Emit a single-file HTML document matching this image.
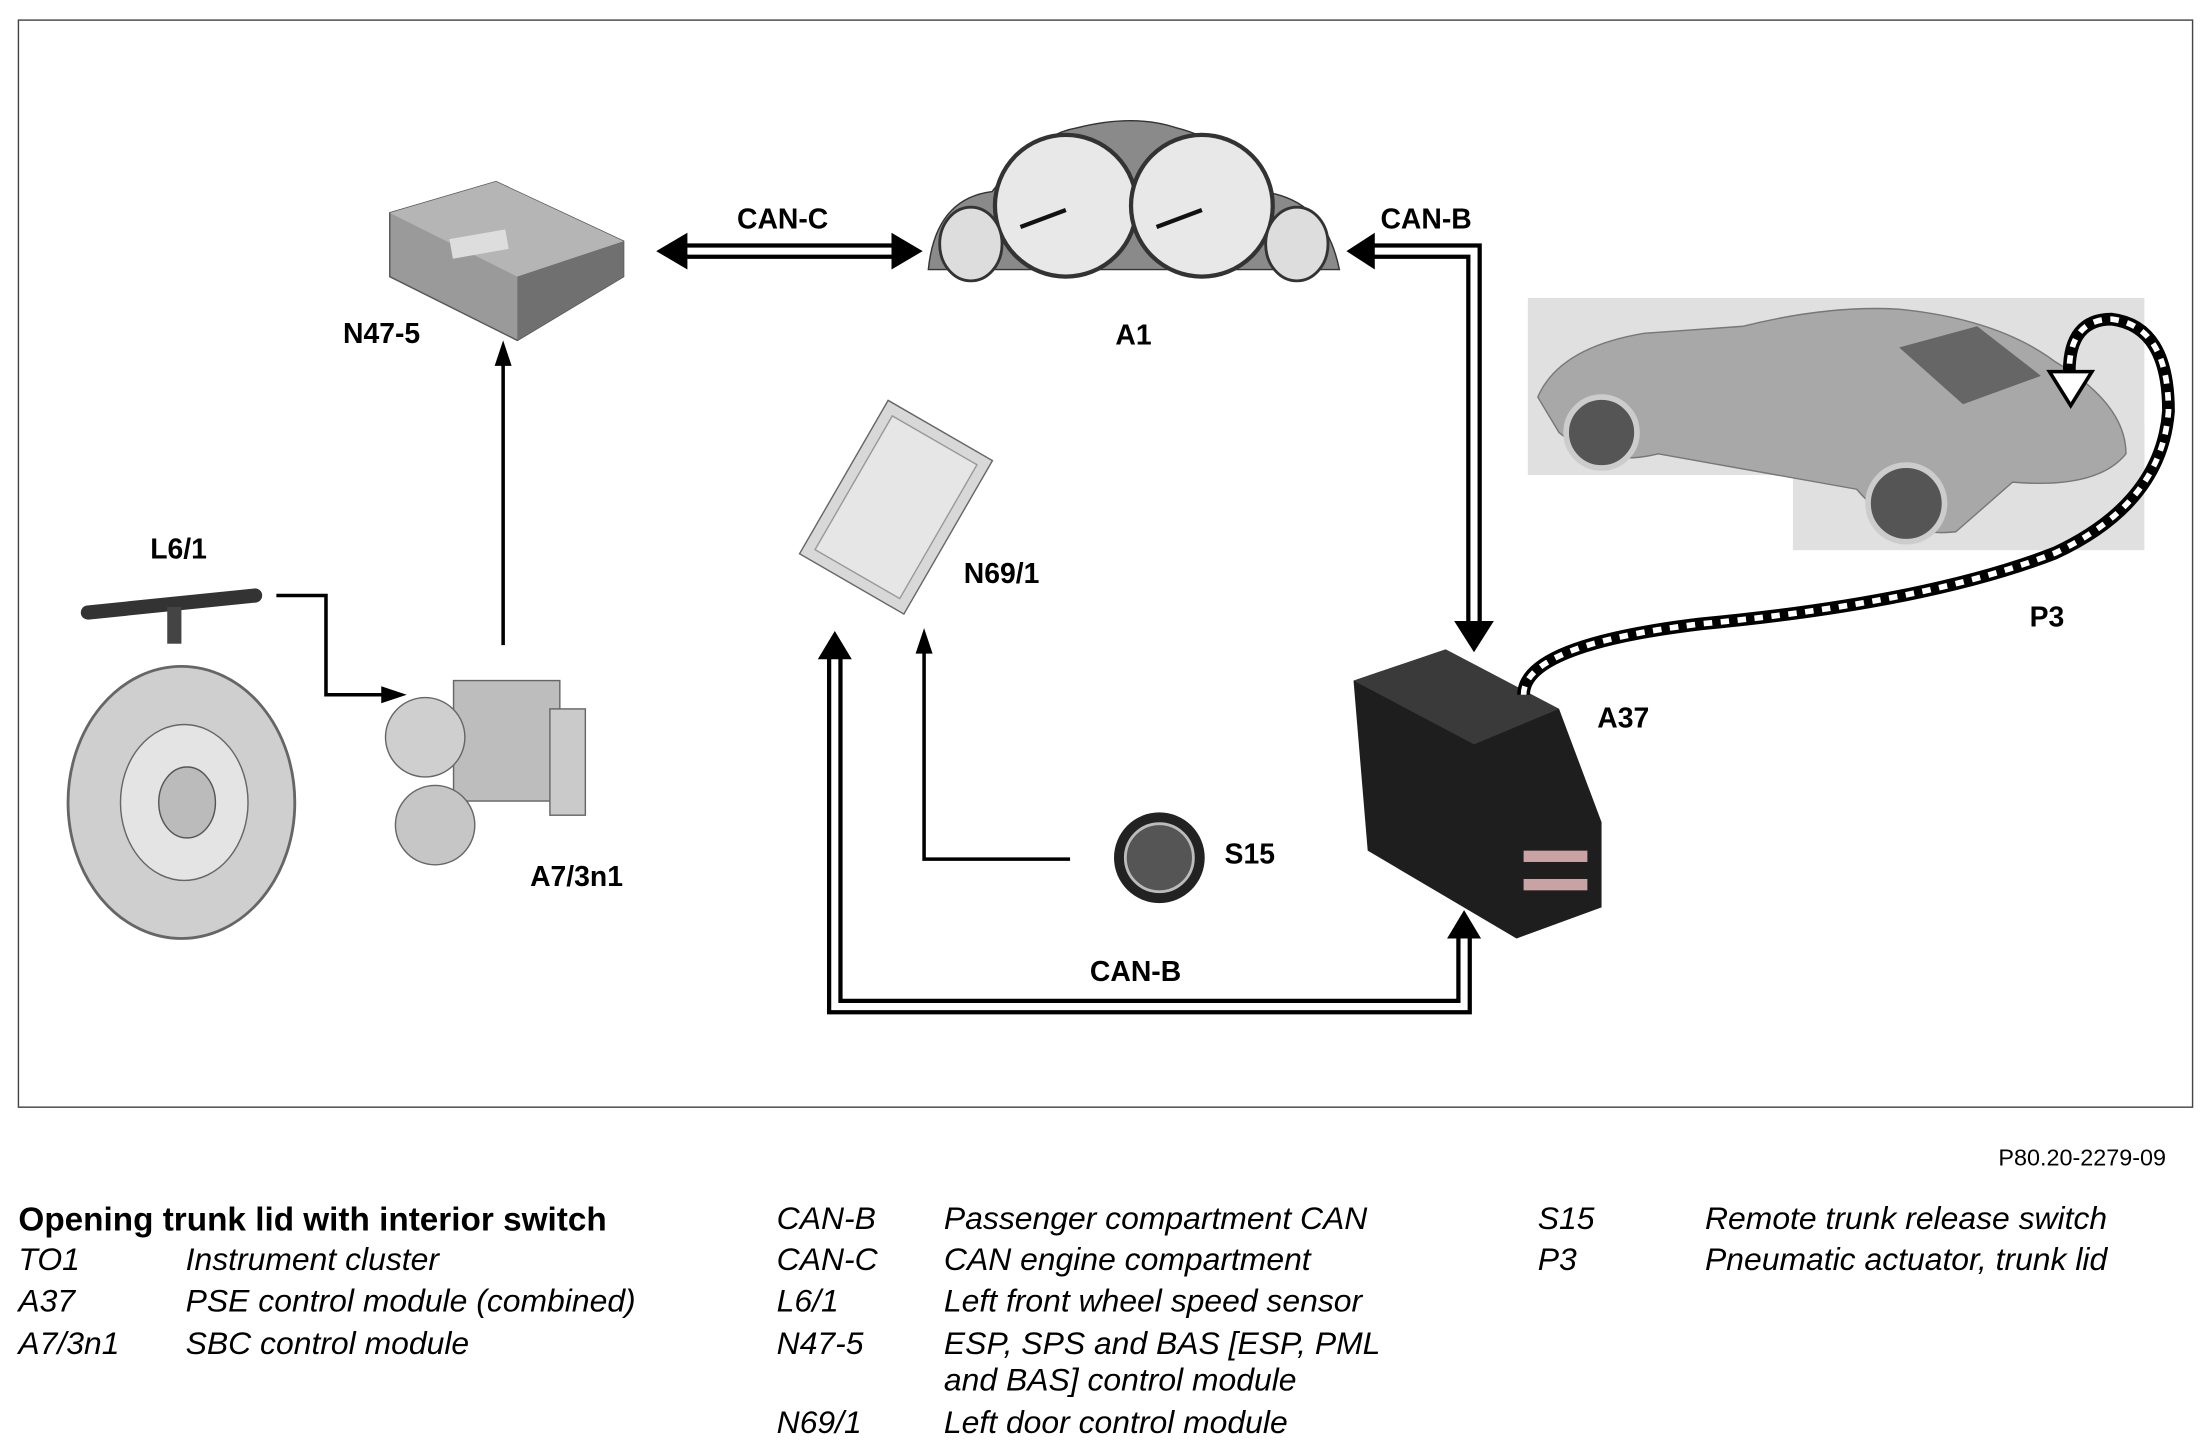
<!DOCTYPE html>
<html><head><meta charset="utf-8"><style>
html,body{margin:0;padding:0;background:#fff}
svg{display:block}
text{font-family:"Liberation Sans",Arial,sans-serif}
.lbl{font-weight:bold;font-size:20px}
.it{font-style:italic;font-size:22.5px}
</style></head><body>
<svg width="2211" height="1449" viewBox="0 0 1560 1022" xmlns="http://www.w3.org/2000/svg">
<rect x="13" y="14" width="1534" height="767" fill="#fff" stroke="#444" stroke-width="1"/>

<!-- N47-5 -->
<g>
<polygon points="275,150 350,128 440,170 440,195 365,240 275,195" fill="#9a9a9a" stroke="#555"/>
<polygon points="275,150 350,128 440,170 365,195" fill="#b5b5b5"/>
<polygon points="365,195 440,170 440,195 365,240" fill="#707070"/>
<rect x="318" y="165" width="40" height="14" fill="#ddd" transform="rotate(-10 338 172)"/>
</g>
<text class="lbl" x="242" y="242">N47-5</text>

<!-- A1 cluster -->
<g>
<path d="M655,190 Q660,140 700,135 Q730,95 760,90 Q800,80 830,90 Q870,100 890,135 Q935,140 945,190 Z" fill="#8a8a8a" stroke="#333"/>
<circle cx="752" cy="145" r="50" fill="#e8e8e8" stroke="#333" stroke-width="3"/>
<circle cx="848" cy="145" r="50" fill="#e8e8e8" stroke="#333" stroke-width="3"/>
<ellipse cx="685" cy="172" rx="22" ry="26" fill="#ddd" stroke="#333" stroke-width="2"/>
<ellipse cx="915" cy="172" rx="22" ry="26" fill="#ddd" stroke="#333" stroke-width="2"/>
<line x1="752" y1="148" x2="720" y2="160" stroke="#111" stroke-width="3"/>
<line x1="848" y1="148" x2="816" y2="160" stroke="#111" stroke-width="3"/>
</g>
<text class="lbl" x="787" y="243">A1</text>

<!-- double-line connectors -->
<g fill="none" stroke-linejoin="miter">
<path d="M480,177 L635,177" stroke="#000" stroke-width="11"/>
<path d="M480,177 L635,177" stroke="#fff" stroke-width="5"/>
<path d="M965,177 L1040,177 L1040,440" stroke="#000" stroke-width="11"/>
<path d="M965,177 L1040,177 L1040,440" stroke="#fff" stroke-width="5"/>
<path d="M589,462 L589,710 L1033,710 L1033,660" stroke="#000" stroke-width="11"/>
<path d="M589,462 L589,710 L1033,710 L1033,660" stroke="#fff" stroke-width="5"/>
</g>
<polygon points="463,177 485,164 485,190" fill="#000"/>
<polygon points="651,177 629,164 629,190" fill="#000"/>
<polygon points="950,177 970,164 970,190" fill="#000"/>
<polygon points="1040,460 1026,438 1054,438" fill="#000"/>
<polygon points="589,445 577,465 601,465" fill="#000"/>
<polygon points="1033,642 1021,662 1045,662" fill="#000"/>
<text class="lbl" x="520" y="161">CAN-C</text>
<text class="lbl" x="974" y="161">CAN-B</text>
<text class="lbl" x="769" y="692">CAN-B</text>

<!-- single arrows -->
<path d="M355,455 L355,255" stroke="#000" stroke-width="2.5" fill="none"/>
<polygon points="355,240 349,258 361,258" fill="#000"/>
<path d="M195,420 L230,420 L230,490 L272,490" stroke="#000" stroke-width="2.5" fill="none"/>
<polygon points="287,490 269,484 269,496" fill="#000"/>
<path d="M755,606 L652,606 L652,458" stroke="#000" stroke-width="2.5" fill="none"/>
<polygon points="652,443 646,461 658,461" fill="#000"/>

<!-- N69/1 -->
<g transform="rotate(30 632 357)">
<rect x="590" y="295" width="85" height="125" fill="#d8d8d8" stroke="#666"/>
<rect x="598" y="303" width="69" height="109" fill="#e6e6e6" stroke="#999"/>
</g>
<text class="lbl" x="680" y="411">N69/1</text>

<!-- L6/1 + disc -->
<path d="M62,432 L180,420" stroke="#333" stroke-width="10" stroke-linecap="round"/>
<rect x="118" y="428" width="10" height="26" fill="#444"/>
<text class="lbl" x="106" y="394">L6/1</text>
<ellipse cx="128" cy="566" rx="80" ry="96" fill="#cfcfcf" stroke="#666" stroke-width="2"/>
<ellipse cx="130" cy="566" rx="45" ry="55" fill="#e4e4e4" stroke="#666"/>
<ellipse cx="132" cy="566" rx="20" ry="25" fill="#bbb" stroke="#555"/>

<!-- A7/3n1 -->
<g>
<rect x="320" y="480" width="75" height="85" fill="#bdbdbd" stroke="#666"/>
<rect x="388" y="500" width="25" height="75" fill="#cacaca" stroke="#666"/>
<ellipse cx="300" cy="520" rx="28" ry="28" fill="#cfcfcf" stroke="#666"/>
<circle cx="307" cy="582" r="28" fill="#c6c6c6" stroke="#666"/>
</g>
<text class="lbl" x="374" y="625">A7/3n1</text>

<!-- S15 -->
<circle cx="818" cy="605" r="32" fill="#222"/>
<circle cx="818" cy="605" r="24" fill="#555" stroke="#bbb" stroke-width="2"/>
<text class="lbl" x="864" y="609">S15</text>

<!-- A37 -->
<g>
<polygon points="955,480 1020,458 1100,500 1130,580 1130,640 1070,662 965,600" fill="#1e1e1e"/>
<polygon points="955,480 1020,458 1100,500 1040,525" fill="#3a3a3a"/>
<rect x="1075" y="600" width="45" height="8" fill="#c9a3a3"/>
<rect x="1075" y="620" width="45" height="8" fill="#c9a3a3"/>
</g>
<text class="lbl" x="1127" y="513">A37</text>

<!-- car -->
<rect x="1078" y="210" width="435" height="125" fill="#e0e0e0"/>
<rect x="1265" y="300" width="248" height="88" fill="#e0e0e0"/>
<path d="M1085,280 Q1100,245 1160,235 L1230,230 Q1290,215 1340,218 Q1410,225 1450,255 Q1500,285 1500,320 Q1480,345 1420,340 L1380,375 Q1340,380 1310,345 L1170,320 Q1130,330 1100,305 Z" fill="#a8a8a8" stroke="#777"/>
<polygon points="1340,245 1395,230 1440,265 1385,285" fill="#666"/>
<circle cx="1130" cy="305" r="25" fill="#555" stroke="#ccc" stroke-width="4"/>
<circle cx="1345" cy="355" r="27" fill="#555" stroke="#ccc" stroke-width="4"/>

<!-- P3 -->
<path d="M1075,490 Q1075,455 1200,440 Q1360,425 1450,390 Q1525,355 1530,290 Q1530,230 1490,225 Q1460,225 1460,262" fill="none" stroke="#000" stroke-width="9"/>
<path d="M1075,490 Q1075,455 1200,440 Q1360,425 1450,390 Q1525,355 1530,290 Q1530,230 1490,225 Q1460,225 1460,262" fill="none" stroke="#fff" stroke-width="4" stroke-dasharray="6 6"/>
<polygon points="1446,262 1476,262 1461,286" fill="#fff" stroke="#000" stroke-width="2.5"/>
<text class="lbl" x="1432" y="442">P3</text>

<!-- legend -->
<text x="1410" y="822" font-size="16.5">P80.20-2279-09</text>
<text x="13" y="868" font-size="23.5" font-weight="bold">Opening trunk lid with interior switch</text>
<g>
<text class="it" x="13" y="896">TO1</text><text class="it" x="131" y="896">Instrument cluster</text>
<text class="it" x="13" y="925">A37</text><text class="it" x="131" y="925">PSE control module (combined)</text>
<text class="it" x="13" y="955">A7/3n1</text><text class="it" x="131" y="955">SBC control module</text>
<text class="it" x="548" y="867">CAN-B</text><text class="it" x="666" y="867">Passenger compartment CAN</text>
<text class="it" x="548" y="896">CAN-C</text><text class="it" x="666" y="896">CAN engine compartment</text>
<text class="it" x="548" y="925">L6/1</text><text class="it" x="666" y="925">Left front wheel speed sensor</text>
<text class="it" x="548" y="955">N47-5</text><text class="it" x="666" y="955">ESP, SPS and BAS [ESP, PML</text>
<text class="it" x="666" y="981">and BAS] control module</text>
<text class="it" x="548" y="1011">N69/1</text><text class="it" x="666" y="1011">Left door control module</text>
<text class="it" x="1085" y="867">S15</text><text class="it" x="1203" y="867">Remote trunk release switch</text>
<text class="it" x="1085" y="896">P3</text><text class="it" x="1203" y="896">Pneumatic actuator, trunk lid</text>
</g>
</svg>
</body></html>
